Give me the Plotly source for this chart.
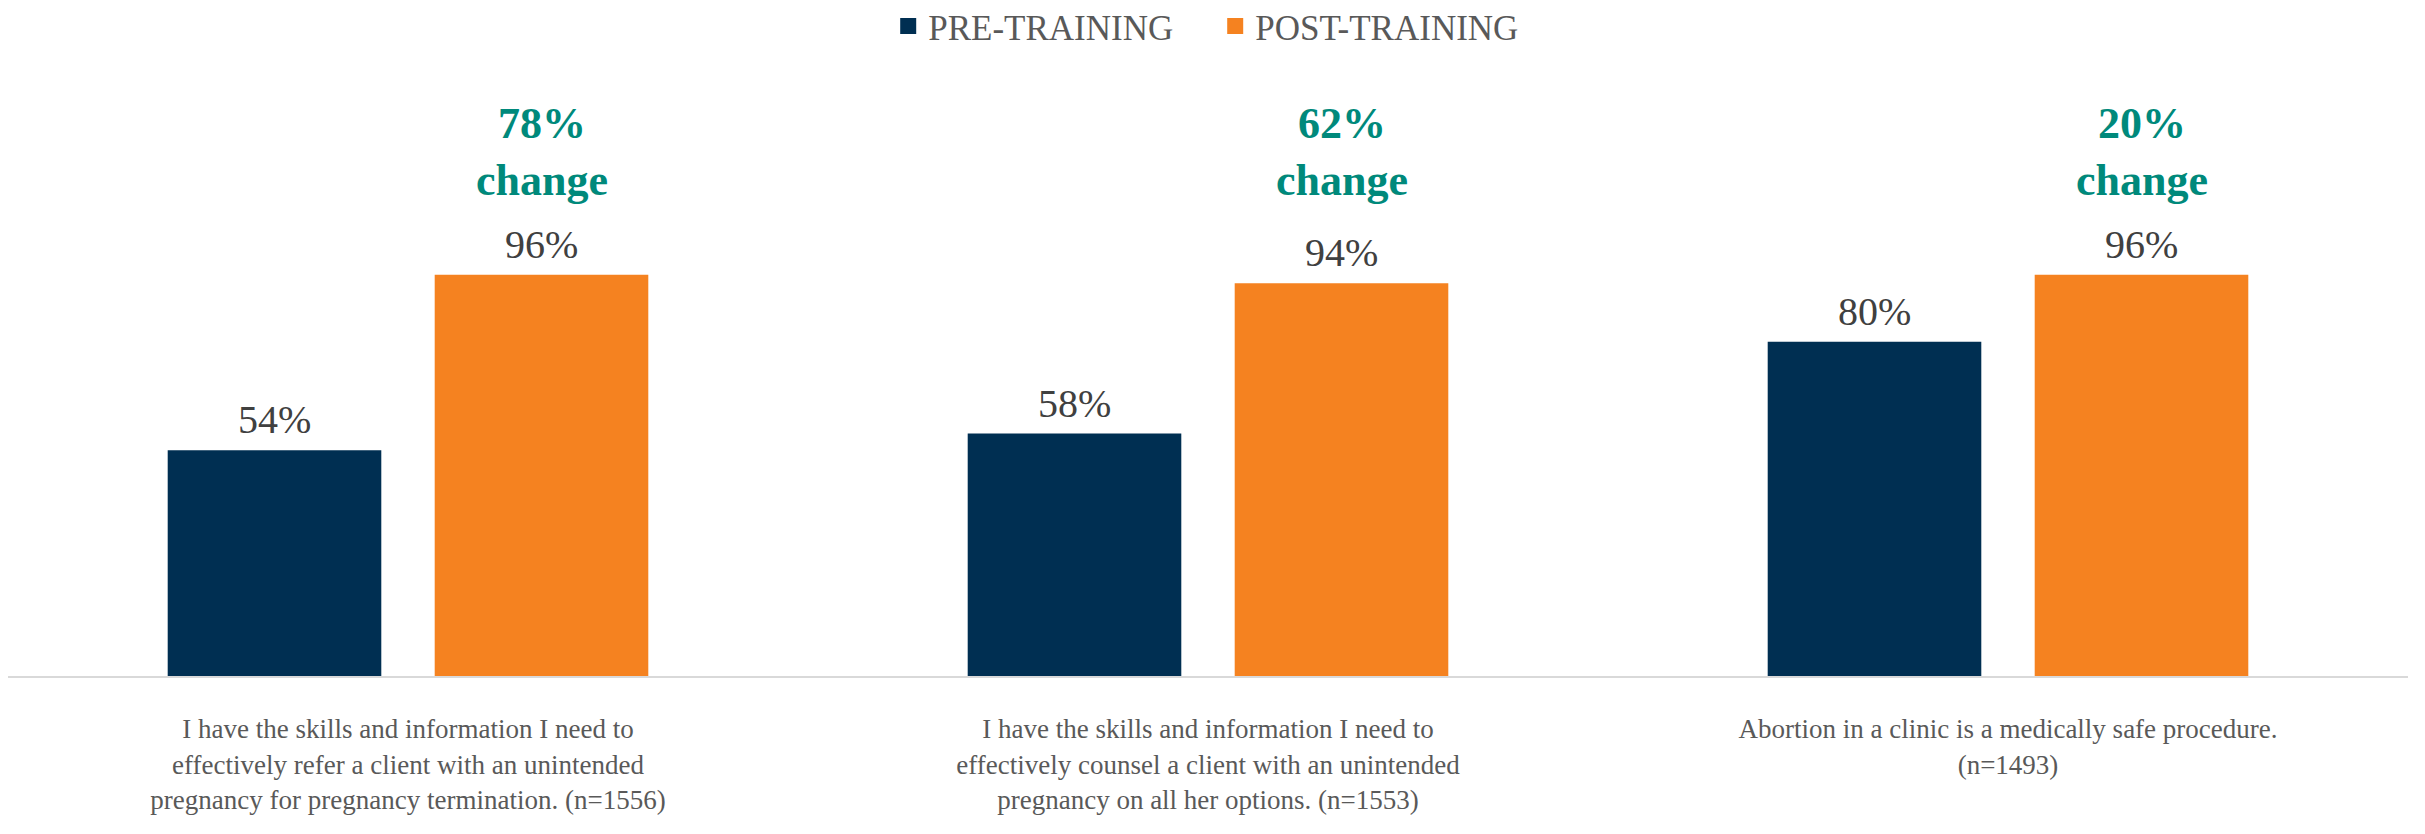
import plotly.graph_objects as go

categories = [
    "I have the skills and information I need to<br>effectively refer a client with an unintended<br>pregnancy for pregnancy termination. (n=1556)",
    "I have the skills and information I need to<br>effectively counsel a client with an unintended<br>pregnancy on all her options. (n=1553)",
    "Abortion in a clinic is a medically safe procedure.<br>(n=1493)<br> ",
]
pre_training = [54, 58, 80]
post_training = [96, 94, 96]
pct_change = [78, 62, 20]

NAVY = "#002F52"
ORANGE = "#F58220"
TEAL = "#00897B"
FONT = "Liberation Serif, Times New Roman, serif"
BARGAP = 0.3325

fig = go.Figure()
for name, vals, color in [("PRE-TRAINING", pre_training, NAVY),
                          ("POST-TRAINING", post_training, ORANGE)]:
    fig.add_trace(go.Bar(
        x=categories, y=vals, name=name, legendgroup=name, showlegend=False,
        marker=dict(color=color, line=dict(width=0)),
    ))
    # bigger square swatches for the legend
    fig.add_trace(go.Scatter(
        x=[None], y=[None], mode="markers", name=name, legendgroup=name,
        marker=dict(symbol="square", size=16, color=color),
    ))

offset = (1 - BARGAP) / 4
for i in range(len(categories)):
    for dx, v in [(-offset, pre_training[i]), (offset, post_training[i])]:
        fig.add_annotation(
            x=i + dx, y=v, xref="x", yref="y", text=f"{v}%", showarrow=False,
            font=dict(size=40, color="#404040", family=FONT),
            xanchor="center", yanchor="bottom", yshift=6,
        )
    # "% change" callouts over the post-training bars
    fig.add_annotation(
        x=i + offset, y=125.5, xref="x", yref="y",
        text=f"<b>{pct_change[i]}%<br>change</b>", showarrow=False,
        font=dict(size=44, color=TEAL, family=FONT),
        xanchor="center", yanchor="middle",
    )

fig.update_layout(
    width=2425, height=834,
    paper_bgcolor="white", plot_bgcolor="white",
    barmode="group", bargap=BARGAP, bargroupgap=0.2,
    margin=dict(l=0, r=25, t=62, b=166),
    font=dict(family=FONT, color="#595959"),
    legend=dict(
        orientation="h", x=0.503, xanchor="center",
        yref="container", y=0.978, yanchor="middle",
        font=dict(size=35, color="#595959", family=FONT),
        entrywidth=282, itemwidth=30,
    ),
    showlegend=True,
)
fig.update_xaxes(
    showline=True, linecolor="#D9D9D9", linewidth=2,
    showgrid=False, ticks="", ticklabelstandoff=28,
    tickfont=dict(size=27, color="#595959", family=FONT),
)
fig.update_yaxes(visible=False, range=[0, 145], showgrid=False, zeroline=False)

fig.write_html("out.html")
